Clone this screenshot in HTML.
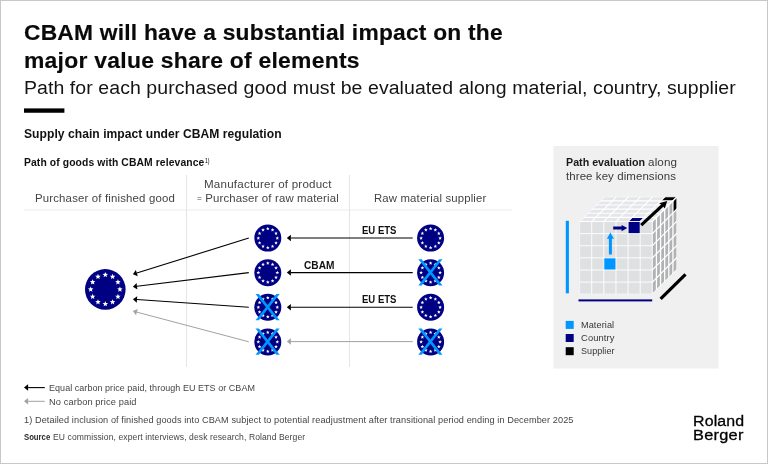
<!DOCTYPE html>
<html lang="en"><head><meta charset="utf-8"><title>CBAM supply chain impact</title>
<style>
html,body{margin:0;padding:0;background:#fff;}
body{width:768px;height:464px;position:relative;overflow:hidden;font-family:"Liberation Sans",sans-serif;}
.frame{position:absolute;left:0;top:0;width:766px;height:462px;border:1px solid #c8c8c8;}
.t{position:absolute;white-space:nowrap;margin:0;padding:0;transform-origin:0 50%;}
.t b{font-weight:700;}
.hl{position:absolute;left:24px;top:209px;width:488px;height:2px;background:#f5f5f5;}
.eq{font-size:0.72em;position:relative;top:-0.6px;}
.vl{position:absolute;top:174.5px;width:1px;height:192px;background:#e5e5e5;}
svg{position:absolute;left:0;top:0;}
.txt{position:absolute;left:0;top:0;width:768px;height:464px;will-change:transform;}
</style></head><body>
<div class="frame"></div>
<div class="hl"></div>
<div class="vl" style="left:186px"></div>
<div class="vl" style="left:349.3px"></div>
<svg width="768" height="464" viewBox="0 0 768 464"><rect x="553.4" y="145.9" width="165.2" height="222.6" fill="#f0f0f0"/><rect x="565.7" y="320.9" width="8.0" height="8.0" fill="#0096ff"/><rect x="565.7" y="334.0" width="8.0" height="8.0" fill="#000082"/><rect x="565.7" y="347.2" width="8.0" height="8.0" fill="#000"/><rect x="24.0" y="108.4" width="40.4" height="4.35" fill="#000"/><circle cx="105.3" cy="289.4" r="20.3" fill="#000082"/><g fill="#fff"><polygon points="105.30,271.90 106.05,273.77 108.06,273.90 106.51,275.19 107.00,277.15 105.30,276.08 103.60,277.15 104.09,275.19 102.54,273.90 104.55,273.77"/><polygon points="112.60,273.86 113.35,275.72 115.36,275.86 113.81,277.15 114.30,279.10 112.60,278.03 110.90,279.10 111.39,277.15 109.84,275.86 111.85,275.72"/><polygon points="117.94,279.20 118.69,281.07 120.70,281.20 119.16,282.49 119.65,284.45 117.94,283.38 116.24,284.45 116.73,282.49 115.19,281.20 117.19,281.07"/><polygon points="119.90,286.50 120.65,288.37 122.66,288.50 121.11,289.79 121.60,291.75 119.90,290.68 118.20,291.75 118.69,289.79 117.14,288.50 119.15,288.37"/><polygon points="117.94,293.80 118.69,295.67 120.70,295.80 119.16,297.09 119.65,299.05 117.94,297.98 116.24,299.05 116.73,297.09 115.19,295.80 117.19,295.67"/><polygon points="112.60,299.14 113.35,301.01 115.36,301.15 113.81,302.44 114.30,304.39 112.60,303.32 110.90,304.39 111.39,302.44 109.84,301.15 111.85,301.01"/><polygon points="105.30,301.10 106.05,302.97 108.06,303.10 106.51,304.39 107.00,306.35 105.30,305.28 103.60,306.35 104.09,304.39 102.54,303.10 104.55,302.97"/><polygon points="98.00,299.14 98.75,301.01 100.76,301.15 99.21,302.44 99.70,304.39 98.00,303.32 96.30,304.39 96.79,302.44 95.24,301.15 97.25,301.01"/><polygon points="92.66,293.80 93.41,295.67 95.41,295.80 93.87,297.09 94.36,299.05 92.66,297.98 90.95,299.05 91.44,297.09 89.90,295.80 91.91,295.67"/><polygon points="90.70,286.50 91.45,288.37 93.46,288.50 91.91,289.79 92.40,291.75 90.70,290.68 89.00,291.75 89.49,289.79 87.94,288.50 89.95,288.37"/><polygon points="92.66,279.20 93.41,281.07 95.41,281.20 93.87,282.49 94.36,284.45 92.66,283.38 90.95,284.45 91.44,282.49 89.90,281.20 91.91,281.07"/><polygon points="98.00,273.86 98.75,275.72 100.76,275.86 99.21,277.15 99.70,279.10 98.00,278.03 96.30,279.10 96.79,277.15 95.24,275.86 97.25,275.72"/></g><circle cx="267.8" cy="238.1" r="13.5" fill="#000082"/><g fill="#fff"><polygon points="267.80,226.70 268.29,227.92 269.61,228.01 268.60,228.86 268.92,230.14 267.80,229.44 266.68,230.14 267.00,228.86 265.99,228.01 267.31,227.92"/><polygon points="272.55,227.97 273.04,229.20 274.36,229.29 273.35,230.13 273.67,231.41 272.55,230.71 271.43,231.41 271.75,230.13 270.74,229.29 272.06,229.20"/><polygon points="276.03,231.45 276.52,232.67 277.83,232.76 276.82,233.61 277.14,234.89 276.03,234.19 274.91,234.89 275.23,233.61 274.22,232.76 275.54,232.67"/><polygon points="277.30,236.20 277.79,237.42 279.11,237.51 278.10,238.36 278.42,239.64 277.30,238.94 276.18,239.64 276.50,238.36 275.49,237.51 276.81,237.42"/><polygon points="276.03,240.95 276.52,242.17 277.83,242.26 276.82,243.11 277.14,244.39 276.03,243.69 274.91,244.39 275.23,243.11 274.22,242.26 275.54,242.17"/><polygon points="272.55,244.43 273.04,245.65 274.36,245.74 273.35,246.59 273.67,247.86 272.55,247.16 271.43,247.86 271.75,246.59 270.74,245.74 272.06,245.65"/><polygon points="267.80,245.70 268.29,246.92 269.61,247.01 268.60,247.86 268.92,249.14 267.80,248.44 266.68,249.14 267.00,247.86 265.99,247.01 267.31,246.92"/><polygon points="263.05,244.43 263.54,245.65 264.86,245.74 263.85,246.59 264.17,247.86 263.05,247.16 261.93,247.86 262.25,246.59 261.24,245.74 262.56,245.65"/><polygon points="259.57,240.95 260.06,242.17 261.38,242.26 260.37,243.11 260.69,244.39 259.57,243.69 258.46,244.39 258.78,243.11 257.77,242.26 259.08,242.17"/><polygon points="258.30,236.20 258.79,237.42 260.11,237.51 259.10,238.36 259.42,239.64 258.30,238.94 257.18,239.64 257.50,238.36 256.49,237.51 257.81,237.42"/><polygon points="259.57,231.45 260.06,232.67 261.38,232.76 260.37,233.61 260.69,234.89 259.57,234.19 258.46,234.89 258.78,233.61 257.77,232.76 259.08,232.67"/><polygon points="263.05,227.97 263.54,229.20 264.86,229.29 263.85,230.13 264.17,231.41 263.05,230.71 261.93,231.41 262.25,230.13 261.24,229.29 262.56,229.20"/></g><circle cx="267.8" cy="272.70000000000005" r="13.5" fill="#000082"/><g fill="#fff"><polygon points="267.80,261.30 268.29,262.52 269.61,262.61 268.60,263.46 268.92,264.74 267.80,264.04 266.68,264.74 267.00,263.46 265.99,262.61 267.31,262.52"/><polygon points="272.55,262.57 273.04,263.80 274.36,263.89 273.35,264.73 273.67,266.01 272.55,265.31 271.43,266.01 271.75,264.73 270.74,263.89 272.06,263.80"/><polygon points="276.03,266.05 276.52,267.27 277.83,267.36 276.82,268.21 277.14,269.49 276.03,268.79 274.91,269.49 275.23,268.21 274.22,267.36 275.54,267.27"/><polygon points="277.30,270.80 277.79,272.02 279.11,272.11 278.10,272.96 278.42,274.24 277.30,273.54 276.18,274.24 276.50,272.96 275.49,272.11 276.81,272.02"/><polygon points="276.03,275.55 276.52,276.77 277.83,276.86 276.82,277.71 277.14,278.99 276.03,278.29 274.91,278.99 275.23,277.71 274.22,276.86 275.54,276.77"/><polygon points="272.55,279.03 273.04,280.25 274.36,280.34 273.35,281.19 273.67,282.46 272.55,281.76 271.43,282.46 271.75,281.19 270.74,280.34 272.06,280.25"/><polygon points="267.80,280.30 268.29,281.52 269.61,281.61 268.60,282.46 268.92,283.74 267.80,283.04 266.68,283.74 267.00,282.46 265.99,281.61 267.31,281.52"/><polygon points="263.05,279.03 263.54,280.25 264.86,280.34 263.85,281.19 264.17,282.46 263.05,281.76 261.93,282.46 262.25,281.19 261.24,280.34 262.56,280.25"/><polygon points="259.57,275.55 260.06,276.77 261.38,276.86 260.37,277.71 260.69,278.99 259.57,278.29 258.46,278.99 258.78,277.71 257.77,276.86 259.08,276.77"/><polygon points="258.30,270.80 258.79,272.02 260.11,272.11 259.10,272.96 259.42,274.24 258.30,273.54 257.18,274.24 257.50,272.96 256.49,272.11 257.81,272.02"/><polygon points="259.57,266.05 260.06,267.27 261.38,267.36 260.37,268.21 260.69,269.49 259.57,268.79 258.46,269.49 258.78,268.21 257.77,267.36 259.08,267.27"/><polygon points="263.05,262.57 263.54,263.80 264.86,263.89 263.85,264.73 264.17,266.01 263.05,265.31 261.93,266.01 262.25,264.73 261.24,263.89 262.56,263.80"/></g><circle cx="267.8" cy="307.3" r="13.5" fill="#000082"/><g fill="#fff"><polygon points="267.80,295.90 268.29,297.12 269.61,297.21 268.60,298.06 268.92,299.34 267.80,298.64 266.68,299.34 267.00,298.06 265.99,297.21 267.31,297.12"/><polygon points="272.55,297.17 273.04,298.40 274.36,298.49 273.35,299.33 273.67,300.61 272.55,299.91 271.43,300.61 271.75,299.33 270.74,298.49 272.06,298.40"/><polygon points="276.03,300.65 276.52,301.87 277.83,301.96 276.82,302.81 277.14,304.09 276.03,303.39 274.91,304.09 275.23,302.81 274.22,301.96 275.54,301.87"/><polygon points="277.30,305.40 277.79,306.62 279.11,306.71 278.10,307.56 278.42,308.84 277.30,308.14 276.18,308.84 276.50,307.56 275.49,306.71 276.81,306.62"/><polygon points="276.03,310.15 276.52,311.37 277.83,311.46 276.82,312.31 277.14,313.59 276.03,312.89 274.91,313.59 275.23,312.31 274.22,311.46 275.54,311.37"/><polygon points="272.55,313.63 273.04,314.85 274.36,314.94 273.35,315.79 273.67,317.06 272.55,316.36 271.43,317.06 271.75,315.79 270.74,314.94 272.06,314.85"/><polygon points="267.80,314.90 268.29,316.12 269.61,316.21 268.60,317.06 268.92,318.34 267.80,317.64 266.68,318.34 267.00,317.06 265.99,316.21 267.31,316.12"/><polygon points="263.05,313.63 263.54,314.85 264.86,314.94 263.85,315.79 264.17,317.06 263.05,316.36 261.93,317.06 262.25,315.79 261.24,314.94 262.56,314.85"/><polygon points="259.57,310.15 260.06,311.37 261.38,311.46 260.37,312.31 260.69,313.59 259.57,312.89 258.46,313.59 258.78,312.31 257.77,311.46 259.08,311.37"/><polygon points="258.30,305.40 258.79,306.62 260.11,306.71 259.10,307.56 259.42,308.84 258.30,308.14 257.18,308.84 257.50,307.56 256.49,306.71 257.81,306.62"/><polygon points="259.57,300.65 260.06,301.87 261.38,301.96 260.37,302.81 260.69,304.09 259.57,303.39 258.46,304.09 258.78,302.81 257.77,301.96 259.08,301.87"/><polygon points="263.05,297.17 263.54,298.40 264.86,298.49 263.85,299.33 264.17,300.61 263.05,299.91 261.93,300.61 262.25,299.33 261.24,298.49 262.56,298.40"/></g><polygon points="255.50,293.95 258.90,293.95 279.70,320.15 276.30,320.15" fill="#0096ff"/><polygon points="279.70,293.95 276.30,293.95 255.50,320.15 258.90,320.15" fill="#0096ff"/><circle cx="267.8" cy="341.90000000000003" r="13.5" fill="#000082"/><g fill="#fff"><polygon points="267.80,330.50 268.29,331.72 269.61,331.81 268.60,332.66 268.92,333.94 267.80,333.24 266.68,333.94 267.00,332.66 265.99,331.81 267.31,331.72"/><polygon points="272.55,331.77 273.04,333.00 274.36,333.09 273.35,333.93 273.67,335.21 272.55,334.51 271.43,335.21 271.75,333.93 270.74,333.09 272.06,333.00"/><polygon points="276.03,335.25 276.52,336.47 277.83,336.56 276.82,337.41 277.14,338.69 276.03,337.99 274.91,338.69 275.23,337.41 274.22,336.56 275.54,336.47"/><polygon points="277.30,340.00 277.79,341.22 279.11,341.31 278.10,342.16 278.42,343.44 277.30,342.74 276.18,343.44 276.50,342.16 275.49,341.31 276.81,341.22"/><polygon points="276.03,344.75 276.52,345.97 277.83,346.06 276.82,346.91 277.14,348.19 276.03,347.49 274.91,348.19 275.23,346.91 274.22,346.06 275.54,345.97"/><polygon points="272.55,348.23 273.04,349.45 274.36,349.54 273.35,350.39 273.67,351.66 272.55,350.96 271.43,351.66 271.75,350.39 270.74,349.54 272.06,349.45"/><polygon points="267.80,349.50 268.29,350.72 269.61,350.81 268.60,351.66 268.92,352.94 267.80,352.24 266.68,352.94 267.00,351.66 265.99,350.81 267.31,350.72"/><polygon points="263.05,348.23 263.54,349.45 264.86,349.54 263.85,350.39 264.17,351.66 263.05,350.96 261.93,351.66 262.25,350.39 261.24,349.54 262.56,349.45"/><polygon points="259.57,344.75 260.06,345.97 261.38,346.06 260.37,346.91 260.69,348.19 259.57,347.49 258.46,348.19 258.78,346.91 257.77,346.06 259.08,345.97"/><polygon points="258.30,340.00 258.79,341.22 260.11,341.31 259.10,342.16 259.42,343.44 258.30,342.74 257.18,343.44 257.50,342.16 256.49,341.31 257.81,341.22"/><polygon points="259.57,335.25 260.06,336.47 261.38,336.56 260.37,337.41 260.69,338.69 259.57,337.99 258.46,338.69 258.78,337.41 257.77,336.56 259.08,336.47"/><polygon points="263.05,331.77 263.54,333.00 264.86,333.09 263.85,333.93 264.17,335.21 263.05,334.51 261.93,335.21 262.25,333.93 261.24,333.09 262.56,333.00"/></g><polygon points="255.50,328.55 258.90,328.55 279.70,354.75 276.30,354.75" fill="#0096ff"/><polygon points="279.70,328.55 276.30,328.55 255.50,354.75 258.90,354.75" fill="#0096ff"/><circle cx="430.6" cy="238.1" r="13.5" fill="#000082"/><g fill="#fff"><polygon points="430.60,226.70 431.09,227.92 432.41,228.01 431.40,228.86 431.72,230.14 430.60,229.44 429.48,230.14 429.80,228.86 428.79,228.01 430.11,227.92"/><polygon points="435.35,227.97 435.84,229.20 437.16,229.29 436.15,230.13 436.47,231.41 435.35,230.71 434.23,231.41 434.55,230.13 433.54,229.29 434.86,229.20"/><polygon points="438.83,231.45 439.32,232.67 440.63,232.76 439.62,233.61 439.94,234.89 438.83,234.19 437.71,234.89 438.03,233.61 437.02,232.76 438.34,232.67"/><polygon points="440.10,236.20 440.59,237.42 441.91,237.51 440.90,238.36 441.22,239.64 440.10,238.94 438.98,239.64 439.30,238.36 438.29,237.51 439.61,237.42"/><polygon points="438.83,240.95 439.32,242.17 440.63,242.26 439.62,243.11 439.94,244.39 438.83,243.69 437.71,244.39 438.03,243.11 437.02,242.26 438.34,242.17"/><polygon points="435.35,244.43 435.84,245.65 437.16,245.74 436.15,246.59 436.47,247.86 435.35,247.16 434.23,247.86 434.55,246.59 433.54,245.74 434.86,245.65"/><polygon points="430.60,245.70 431.09,246.92 432.41,247.01 431.40,247.86 431.72,249.14 430.60,248.44 429.48,249.14 429.80,247.86 428.79,247.01 430.11,246.92"/><polygon points="425.85,244.43 426.34,245.65 427.66,245.74 426.65,246.59 426.97,247.86 425.85,247.16 424.73,247.86 425.05,246.59 424.04,245.74 425.36,245.65"/><polygon points="422.37,240.95 422.86,242.17 424.18,242.26 423.17,243.11 423.49,244.39 422.37,243.69 421.26,244.39 421.58,243.11 420.57,242.26 421.88,242.17"/><polygon points="421.10,236.20 421.59,237.42 422.91,237.51 421.90,238.36 422.22,239.64 421.10,238.94 419.98,239.64 420.30,238.36 419.29,237.51 420.61,237.42"/><polygon points="422.37,231.45 422.86,232.67 424.18,232.76 423.17,233.61 423.49,234.89 422.37,234.19 421.26,234.89 421.58,233.61 420.57,232.76 421.88,232.67"/><polygon points="425.85,227.97 426.34,229.20 427.66,229.29 426.65,230.13 426.97,231.41 425.85,230.71 424.73,231.41 425.05,230.13 424.04,229.29 425.36,229.20"/></g><circle cx="430.6" cy="272.70000000000005" r="13.5" fill="#000082"/><g fill="#fff"><polygon points="430.60,261.30 431.09,262.52 432.41,262.61 431.40,263.46 431.72,264.74 430.60,264.04 429.48,264.74 429.80,263.46 428.79,262.61 430.11,262.52"/><polygon points="435.35,262.57 435.84,263.80 437.16,263.89 436.15,264.73 436.47,266.01 435.35,265.31 434.23,266.01 434.55,264.73 433.54,263.89 434.86,263.80"/><polygon points="438.83,266.05 439.32,267.27 440.63,267.36 439.62,268.21 439.94,269.49 438.83,268.79 437.71,269.49 438.03,268.21 437.02,267.36 438.34,267.27"/><polygon points="440.10,270.80 440.59,272.02 441.91,272.11 440.90,272.96 441.22,274.24 440.10,273.54 438.98,274.24 439.30,272.96 438.29,272.11 439.61,272.02"/><polygon points="438.83,275.55 439.32,276.77 440.63,276.86 439.62,277.71 439.94,278.99 438.83,278.29 437.71,278.99 438.03,277.71 437.02,276.86 438.34,276.77"/><polygon points="435.35,279.03 435.84,280.25 437.16,280.34 436.15,281.19 436.47,282.46 435.35,281.76 434.23,282.46 434.55,281.19 433.54,280.34 434.86,280.25"/><polygon points="430.60,280.30 431.09,281.52 432.41,281.61 431.40,282.46 431.72,283.74 430.60,283.04 429.48,283.74 429.80,282.46 428.79,281.61 430.11,281.52"/><polygon points="425.85,279.03 426.34,280.25 427.66,280.34 426.65,281.19 426.97,282.46 425.85,281.76 424.73,282.46 425.05,281.19 424.04,280.34 425.36,280.25"/><polygon points="422.37,275.55 422.86,276.77 424.18,276.86 423.17,277.71 423.49,278.99 422.37,278.29 421.26,278.99 421.58,277.71 420.57,276.86 421.88,276.77"/><polygon points="421.10,270.80 421.59,272.02 422.91,272.11 421.90,272.96 422.22,274.24 421.10,273.54 419.98,274.24 420.30,272.96 419.29,272.11 420.61,272.02"/><polygon points="422.37,266.05 422.86,267.27 424.18,267.36 423.17,268.21 423.49,269.49 422.37,268.79 421.26,269.49 421.58,268.21 420.57,267.36 421.88,267.27"/><polygon points="425.85,262.57 426.34,263.80 427.66,263.89 426.65,264.73 426.97,266.01 425.85,265.31 424.73,266.01 425.05,264.73 424.04,263.89 425.36,263.80"/></g><polygon points="418.30,259.35 421.70,259.35 442.50,285.55 439.10,285.55" fill="#0096ff"/><polygon points="442.50,259.35 439.10,259.35 418.30,285.55 421.70,285.55" fill="#0096ff"/><circle cx="430.6" cy="307.3" r="13.5" fill="#000082"/><g fill="#fff"><polygon points="430.60,295.90 431.09,297.12 432.41,297.21 431.40,298.06 431.72,299.34 430.60,298.64 429.48,299.34 429.80,298.06 428.79,297.21 430.11,297.12"/><polygon points="435.35,297.17 435.84,298.40 437.16,298.49 436.15,299.33 436.47,300.61 435.35,299.91 434.23,300.61 434.55,299.33 433.54,298.49 434.86,298.40"/><polygon points="438.83,300.65 439.32,301.87 440.63,301.96 439.62,302.81 439.94,304.09 438.83,303.39 437.71,304.09 438.03,302.81 437.02,301.96 438.34,301.87"/><polygon points="440.10,305.40 440.59,306.62 441.91,306.71 440.90,307.56 441.22,308.84 440.10,308.14 438.98,308.84 439.30,307.56 438.29,306.71 439.61,306.62"/><polygon points="438.83,310.15 439.32,311.37 440.63,311.46 439.62,312.31 439.94,313.59 438.83,312.89 437.71,313.59 438.03,312.31 437.02,311.46 438.34,311.37"/><polygon points="435.35,313.63 435.84,314.85 437.16,314.94 436.15,315.79 436.47,317.06 435.35,316.36 434.23,317.06 434.55,315.79 433.54,314.94 434.86,314.85"/><polygon points="430.60,314.90 431.09,316.12 432.41,316.21 431.40,317.06 431.72,318.34 430.60,317.64 429.48,318.34 429.80,317.06 428.79,316.21 430.11,316.12"/><polygon points="425.85,313.63 426.34,314.85 427.66,314.94 426.65,315.79 426.97,317.06 425.85,316.36 424.73,317.06 425.05,315.79 424.04,314.94 425.36,314.85"/><polygon points="422.37,310.15 422.86,311.37 424.18,311.46 423.17,312.31 423.49,313.59 422.37,312.89 421.26,313.59 421.58,312.31 420.57,311.46 421.88,311.37"/><polygon points="421.10,305.40 421.59,306.62 422.91,306.71 421.90,307.56 422.22,308.84 421.10,308.14 419.98,308.84 420.30,307.56 419.29,306.71 420.61,306.62"/><polygon points="422.37,300.65 422.86,301.87 424.18,301.96 423.17,302.81 423.49,304.09 422.37,303.39 421.26,304.09 421.58,302.81 420.57,301.96 421.88,301.87"/><polygon points="425.85,297.17 426.34,298.40 427.66,298.49 426.65,299.33 426.97,300.61 425.85,299.91 424.73,300.61 425.05,299.33 424.04,298.49 425.36,298.40"/></g><circle cx="430.6" cy="341.90000000000003" r="13.5" fill="#000082"/><g fill="#fff"><polygon points="430.60,330.50 431.09,331.72 432.41,331.81 431.40,332.66 431.72,333.94 430.60,333.24 429.48,333.94 429.80,332.66 428.79,331.81 430.11,331.72"/><polygon points="435.35,331.77 435.84,333.00 437.16,333.09 436.15,333.93 436.47,335.21 435.35,334.51 434.23,335.21 434.55,333.93 433.54,333.09 434.86,333.00"/><polygon points="438.83,335.25 439.32,336.47 440.63,336.56 439.62,337.41 439.94,338.69 438.83,337.99 437.71,338.69 438.03,337.41 437.02,336.56 438.34,336.47"/><polygon points="440.10,340.00 440.59,341.22 441.91,341.31 440.90,342.16 441.22,343.44 440.10,342.74 438.98,343.44 439.30,342.16 438.29,341.31 439.61,341.22"/><polygon points="438.83,344.75 439.32,345.97 440.63,346.06 439.62,346.91 439.94,348.19 438.83,347.49 437.71,348.19 438.03,346.91 437.02,346.06 438.34,345.97"/><polygon points="435.35,348.23 435.84,349.45 437.16,349.54 436.15,350.39 436.47,351.66 435.35,350.96 434.23,351.66 434.55,350.39 433.54,349.54 434.86,349.45"/><polygon points="430.60,349.50 431.09,350.72 432.41,350.81 431.40,351.66 431.72,352.94 430.60,352.24 429.48,352.94 429.80,351.66 428.79,350.81 430.11,350.72"/><polygon points="425.85,348.23 426.34,349.45 427.66,349.54 426.65,350.39 426.97,351.66 425.85,350.96 424.73,351.66 425.05,350.39 424.04,349.54 425.36,349.45"/><polygon points="422.37,344.75 422.86,345.97 424.18,346.06 423.17,346.91 423.49,348.19 422.37,347.49 421.26,348.19 421.58,346.91 420.57,346.06 421.88,345.97"/><polygon points="421.10,340.00 421.59,341.22 422.91,341.31 421.90,342.16 422.22,343.44 421.10,342.74 419.98,343.44 420.30,342.16 419.29,341.31 420.61,341.22"/><polygon points="422.37,335.25 422.86,336.47 424.18,336.56 423.17,337.41 423.49,338.69 422.37,337.99 421.26,338.69 421.58,337.41 420.57,336.56 421.88,336.47"/><polygon points="425.85,331.77 426.34,333.00 427.66,333.09 426.65,333.93 426.97,335.21 425.85,334.51 424.73,335.21 425.05,333.93 424.04,333.09 425.36,333.00"/></g><polygon points="418.30,328.55 421.70,328.55 442.50,354.75 439.10,354.75" fill="#0096ff"/><polygon points="442.50,328.55 439.10,328.55 418.30,354.75 421.70,354.75" fill="#0096ff"/><line x1="412.70" y1="238.00" x2="290.90" y2="238.00" stroke="#000" stroke-width="1.05"/><polygon points="286.80,238.00 290.90,234.75 290.90,238.00 290.90,241.25" fill="#000"/><line x1="412.70" y1="272.60" x2="290.90" y2="272.60" stroke="#000" stroke-width="1.05"/><polygon points="286.80,272.60 290.90,269.35 290.90,272.60 290.90,275.85" fill="#000"/><line x1="412.70" y1="307.20" x2="290.90" y2="307.20" stroke="#000" stroke-width="1.05"/><polygon points="286.80,307.20 290.90,303.95 290.90,307.20 290.90,310.45" fill="#000"/><line x1="412.70" y1="341.60" x2="290.90" y2="341.60" stroke="#a2a2a2" stroke-width="1.0"/><polygon points="286.80,341.60 290.90,338.35 290.90,341.60 290.90,344.85" fill="#a2a2a2"/><line x1="248.80" y1="238.00" x2="136.81" y2="273.07" stroke="#000" stroke-width="1.1"/><polygon points="132.90,274.30 135.84,269.97 136.81,273.07 137.78,276.18" fill="#000"/><line x1="248.80" y1="272.60" x2="136.97" y2="286.20" stroke="#000" stroke-width="1.1"/><polygon points="132.90,286.70 136.58,282.98 136.97,286.20 137.36,289.43" fill="#000"/><line x1="248.80" y1="307.20" x2="136.99" y2="299.48" stroke="#000" stroke-width="1.1"/><polygon points="132.90,299.20 137.21,296.24 136.99,299.48 136.77,302.72" fill="#000"/><line x1="248.80" y1="341.80" x2="136.86" y2="312.15" stroke="#a2a2a2" stroke-width="1.0"/><polygon points="132.90,311.10 137.70,309.01 136.86,312.15 136.03,315.29" fill="#a2a2a2"/><line x1="44.80" y1="387.60" x2="28.10" y2="387.60" stroke="#000" stroke-width="1.1"/><polygon points="24.00,387.60 28.10,384.35 28.10,387.60 28.10,390.85" fill="#000"/><line x1="44.80" y1="401.30" x2="28.10" y2="401.30" stroke="#a2a2a2" stroke-width="1.0"/><polygon points="24.00,401.30 28.10,398.05 28.10,401.30 28.10,404.55" fill="#a2a2a2"/><clipPath id="cc"><polygon points="579.60,221.50 604.32,196.78 677.04,196.78 677.04,269.50 652.32,294.22 579.60,294.22"/></clipPath><g clip-path="url(#cc)"><polygon points="579.60,221.50 652.32,221.50 652.32,294.22 579.60,294.22" fill="#dfe0e2"/><polygon points="579.60,221.50 604.32,196.78 677.04,196.78 652.32,221.50" fill="#e5e6e9"/><polygon points="652.32,221.50 677.04,196.78 677.04,269.50 652.32,294.22" fill="#b1b2b4"/><rect x="603.84" y="257.86" width="12.12" height="12.12" fill="#0096ff"/><rect x="628.08" y="221.50" width="12.12" height="12.12" fill="#000082"/><polygon points="628.08,221.50 640.20,221.50 644.32,217.38 632.20,217.38" fill="#000082"/><polygon points="660.80,200.90 672.92,200.90 677.04,196.78 664.92,196.78" fill="#000"/><polygon points="672.92,200.90 677.04,196.78 677.04,208.90 672.92,213.02" fill="#000"/><line x1="579.60" y1="221.50" x2="579.60" y2="294.22" stroke="#fff" stroke-width="0.9" stroke-linecap="square"/><line x1="579.60" y1="221.50" x2="652.32" y2="221.50" stroke="#fff" stroke-width="0.9" stroke-linecap="square"/><line x1="591.72" y1="221.50" x2="591.72" y2="294.22" stroke="#fff" stroke-width="0.9" stroke-linecap="square"/><line x1="579.60" y1="233.62" x2="652.32" y2="233.62" stroke="#fff" stroke-width="0.9" stroke-linecap="square"/><line x1="603.84" y1="221.50" x2="603.84" y2="294.22" stroke="#fff" stroke-width="0.9" stroke-linecap="square"/><line x1="579.60" y1="245.74" x2="652.32" y2="245.74" stroke="#fff" stroke-width="0.9" stroke-linecap="square"/><line x1="615.96" y1="221.50" x2="615.96" y2="294.22" stroke="#fff" stroke-width="0.9" stroke-linecap="square"/><line x1="579.60" y1="257.86" x2="652.32" y2="257.86" stroke="#fff" stroke-width="0.9" stroke-linecap="square"/><line x1="628.08" y1="221.50" x2="628.08" y2="294.22" stroke="#fff" stroke-width="0.9" stroke-linecap="square"/><line x1="579.60" y1="269.98" x2="652.32" y2="269.98" stroke="#fff" stroke-width="0.9" stroke-linecap="square"/><line x1="640.20" y1="221.50" x2="640.20" y2="294.22" stroke="#fff" stroke-width="0.9" stroke-linecap="square"/><line x1="579.60" y1="282.10" x2="652.32" y2="282.10" stroke="#fff" stroke-width="0.9" stroke-linecap="square"/><line x1="652.32" y1="221.50" x2="652.32" y2="294.22" stroke="#fff" stroke-width="0.9" stroke-linecap="square"/><line x1="579.60" y1="294.22" x2="652.32" y2="294.22" stroke="#fff" stroke-width="0.9" stroke-linecap="square"/><line x1="579.60" y1="221.50" x2="604.32" y2="196.78" stroke="#fff" stroke-width="1.1" stroke-linecap="square"/><line x1="591.72" y1="221.50" x2="616.44" y2="196.78" stroke="#fff" stroke-width="1.1" stroke-linecap="square"/><line x1="583.72" y1="217.38" x2="656.44" y2="217.38" stroke="#fff" stroke-width="1.1" stroke-linecap="square"/><line x1="603.84" y1="221.50" x2="628.56" y2="196.78" stroke="#fff" stroke-width="1.1" stroke-linecap="square"/><line x1="587.84" y1="213.26" x2="660.56" y2="213.26" stroke="#fff" stroke-width="1.1" stroke-linecap="square"/><line x1="615.96" y1="221.50" x2="640.68" y2="196.78" stroke="#fff" stroke-width="1.1" stroke-linecap="square"/><line x1="591.96" y1="209.14" x2="664.68" y2="209.14" stroke="#fff" stroke-width="1.1" stroke-linecap="square"/><line x1="628.08" y1="221.50" x2="652.80" y2="196.78" stroke="#fff" stroke-width="1.1" stroke-linecap="square"/><line x1="596.08" y1="205.02" x2="668.80" y2="205.02" stroke="#fff" stroke-width="1.1" stroke-linecap="square"/><line x1="640.20" y1="221.50" x2="664.92" y2="196.78" stroke="#fff" stroke-width="1.1" stroke-linecap="square"/><line x1="600.20" y1="200.90" x2="672.92" y2="200.90" stroke="#fff" stroke-width="1.1" stroke-linecap="square"/><line x1="652.32" y1="221.50" x2="677.04" y2="196.78" stroke="#fff" stroke-width="1.1" stroke-linecap="square"/><line x1="604.32" y1="196.78" x2="677.04" y2="196.78" stroke="#fff" stroke-width="1.1" stroke-linecap="square"/><line x1="652.32" y1="221.50" x2="677.04" y2="196.78" stroke="#fff" stroke-width="1.15" stroke-linecap="square"/><line x1="656.44" y1="217.38" x2="656.44" y2="290.10" stroke="#fff" stroke-width="1.2999999999999998" stroke-linecap="square"/><line x1="652.32" y1="233.62" x2="677.04" y2="208.90" stroke="#fff" stroke-width="1.15" stroke-linecap="square"/><line x1="660.56" y1="213.26" x2="660.56" y2="285.98" stroke="#fff" stroke-width="1.2999999999999998" stroke-linecap="square"/><line x1="652.32" y1="245.74" x2="677.04" y2="221.02" stroke="#fff" stroke-width="1.15" stroke-linecap="square"/><line x1="664.68" y1="209.14" x2="664.68" y2="281.86" stroke="#fff" stroke-width="1.2999999999999998" stroke-linecap="square"/><line x1="652.32" y1="257.86" x2="677.04" y2="233.14" stroke="#fff" stroke-width="1.15" stroke-linecap="square"/><line x1="668.80" y1="205.02" x2="668.80" y2="277.74" stroke="#fff" stroke-width="1.2999999999999998" stroke-linecap="square"/><line x1="652.32" y1="269.98" x2="677.04" y2="245.26" stroke="#fff" stroke-width="1.15" stroke-linecap="square"/><line x1="672.92" y1="200.90" x2="672.92" y2="273.62" stroke="#fff" stroke-width="1.2999999999999998" stroke-linecap="square"/><line x1="652.32" y1="282.10" x2="677.04" y2="257.38" stroke="#fff" stroke-width="1.15" stroke-linecap="square"/><line x1="677.04" y1="196.78" x2="677.04" y2="269.50" stroke="#fff" stroke-width="1.2999999999999998" stroke-linecap="square"/><line x1="652.32" y1="294.22" x2="677.04" y2="269.50" stroke="#fff" stroke-width="1.15" stroke-linecap="square"/></g><rect x="565.8" y="220.8" width="3.1" height="72.5" fill="#0096ff"/><rect x="578.5" y="299.4" width="73.7" height="2" fill="#000082"/><line x1="660.6" y1="298.9" x2="685.5" y2="274.4" stroke="#000" stroke-width="3.2"/><path d="M608.9 254.4V238.8H606.9L610.4 232.6L613.9 238.8H611.9V254.4Z" fill="#0096ff"/><path d="M613.2 226.6H621.6V224.9L627.3 228.1L621.6 231.3V229.6H613.2Z" fill="#000082"/><line x1="641.2" y1="225.2" x2="663.0" y2="204.8" stroke="#000" stroke-width="3.2"/><polygon points="667.2,201.0 664.8,208.6 662.6,205.4 659.2,203.2" fill="#000"/></svg>
<div class="txt">
<div class="t" id="t1" style="left:24.40px;top:20px;font-size:22px;line-height:25px;font-weight:700;color:#0a0a0a;letter-spacing:0.2066px;transform:scaleX(1.0359);-webkit-text-stroke:0.15px #0a0a0a;">CBAM will have a substantial impact on the</div>
<div class="t" id="t2" style="left:24.40px;top:48px;font-size:22px;line-height:25px;font-weight:700;color:#0a0a0a;letter-spacing:0.2416px;transform:scaleX(1.0415);-webkit-text-stroke:0.15px #0a0a0a;">major value share of elements</div>
<div class="t" id="t3" style="left:24.40px;top:77px;font-size:19.2px;line-height:21px;font-weight:400;color:#141414;letter-spacing:0.0729px;transform:scaleX(1.0156);">Path for each purchased good must be evaluated along material, country, supplier</div>
<div class="t" id="h1" style="left:24.40px;top:127px;font-size:12.0px;line-height:14px;font-weight:700;color:#111111;letter-spacing:0.0309px;transform:scaleX(1.0091);">Supply chain impact under CBAM regulation</div>
<div class="t" id="h2" style="left:24.40px;top:157px;font-size:10px;line-height:11px;font-weight:700;color:#111111;letter-spacing:0.0968px;transform:scaleX(1.0348);">Path of goods with CBAM relevance</div>
<div class="t" id="h2s" style="left:204.90px;top:156px;font-size:7.4px;line-height:9px;font-weight:400;color:#000;letter-spacing:0.0000px;transform:scaleX(0.6993);">1)</div>
<div class="t" id="c1" style="left:35.20px;top:192px;font-size:10.8px;line-height:12px;font-weight:400;color:#444444;letter-spacing:0.1502px;transform:scaleX(1.0574);">Purchaser of finished good</div>
<div class="t" id="c2a" style="left:203.80px;top:178px;font-size:10.8px;line-height:12px;font-weight:400;color:#444444;letter-spacing:0.1921px;transform:scaleX(1.0735);">Manufacturer of product</div>
<div class="t" id="c2b" style="left:196.80px;top:192px;font-size:10.8px;line-height:12px;font-weight:400;color:#444444;letter-spacing:0.1421px;transform:scaleX(1.0554);"><span class="eq">=</span> Purchaser of raw material</div>
<div class="t" id="c3" style="left:374.00px;top:192px;font-size:10.8px;line-height:12px;font-weight:400;color:#444444;letter-spacing:0.1410px;transform:scaleX(1.0531);">Raw material supplier</div>
<div class="t" id="l1" style="left:362.10px;top:224px;font-size:10.5px;line-height:12px;font-weight:700;color:#111111;letter-spacing:0.0000px;transform:scaleX(0.9094);">EU ETS</div>
<div class="t" id="l2" style="left:303.60px;top:259px;font-size:10.5px;line-height:12px;font-weight:700;color:#111111;letter-spacing:0.0000px;transform:scaleX(0.9651);">CBAM</div>
<div class="t" id="l3" style="left:362.10px;top:293px;font-size:10.5px;line-height:12px;font-weight:700;color:#111111;letter-spacing:0.0000px;transform:scaleX(0.9094);">EU ETS</div>
<div class="t" id="g1" style="left:48.80px;top:383px;font-size:8.8px;line-height:10px;font-weight:400;color:#444444;letter-spacing:0.0477px;transform:scaleX(1.0209);">Equal carbon price paid, through EU ETS or CBAM</div>
<div class="t" id="g2" style="left:48.80px;top:397px;font-size:8.8px;line-height:10px;font-weight:400;color:#444444;letter-spacing:0.1107px;transform:scaleX(1.0505);">No carbon price paid</div>
<div class="t" id="f1" style="left:24.00px;top:415px;font-size:8.8px;line-height:10px;font-weight:400;color:#444444;letter-spacing:0.0829px;transform:scaleX(1.0409);">1) Detailed inclusion of finished goods into CBAM subject to potential readjustment after transitional period ending in December 2025</div>
<div class="t" id="f2" style="left:24.20px;top:433px;font-size:8.2px;line-height:9px;font-weight:700;color:#2a2a2a;letter-spacing:0.0000px;transform:scaleX(0.9436);">Source</div>
<div class="t" id="f2b" style="left:52.80px;top:433px;font-size:8.2px;line-height:9px;font-weight:400;color:#444444;letter-spacing:0.0876px;transform:scaleX(1.0438);">EU commission, expert interviews, desk research, Roland Berger</div>
<div class="t" id="p1" style="left:566.00px;top:156px;font-size:11.2px;line-height:12px;font-weight:700;color:#1a1a1a;letter-spacing:0.0000px;transform:scaleX(0.9566);">Path evaluation</div>
<div class="t" id="p1b" style="left:648.20px;top:156px;font-size:11.2px;line-height:12px;font-weight:400;color:#3a3a3a;letter-spacing:0.1450px;transform:scaleX(1.0410);">along</div>
<div class="t" id="p2" style="left:566.00px;top:170px;font-size:11.2px;line-height:12px;font-weight:400;color:#3a3a3a;letter-spacing:0.0768px;transform:scaleX(1.0263);">three key dimensions</div>
<div class="t" id="k1" style="left:581.10px;top:320px;font-size:8.9px;line-height:10px;font-weight:400;color:#363636;letter-spacing:0.0738px;transform:scaleX(1.0313);">Material</div>
<div class="t" id="k2" style="left:581.10px;top:333px;font-size:8.9px;line-height:10px;font-weight:400;color:#363636;letter-spacing:0.1345px;transform:scaleX(1.0507);">Country</div>
<div class="t" id="k3" style="left:581.10px;top:346px;font-size:8.9px;line-height:10px;font-weight:400;color:#363636;letter-spacing:0.0460px;transform:scaleX(1.0187);">Supplier</div>
<div class="t" id="lg1" style="left:692.80px;top:412px;font-size:15.5px;line-height:17px;font-weight:400;color:#000;letter-spacing:0.1414px;transform:scaleX(1.0275);-webkit-text-stroke:0.3px #000;">Roland</div>
<div class="t" id="lg2" style="left:692.80px;top:426px;font-size:15.5px;line-height:17px;font-weight:400;color:#000;letter-spacing:0.2569px;transform:scaleX(1.0540);-webkit-text-stroke:0.3px #000;">Berger</div>
</div>
</body></html>
